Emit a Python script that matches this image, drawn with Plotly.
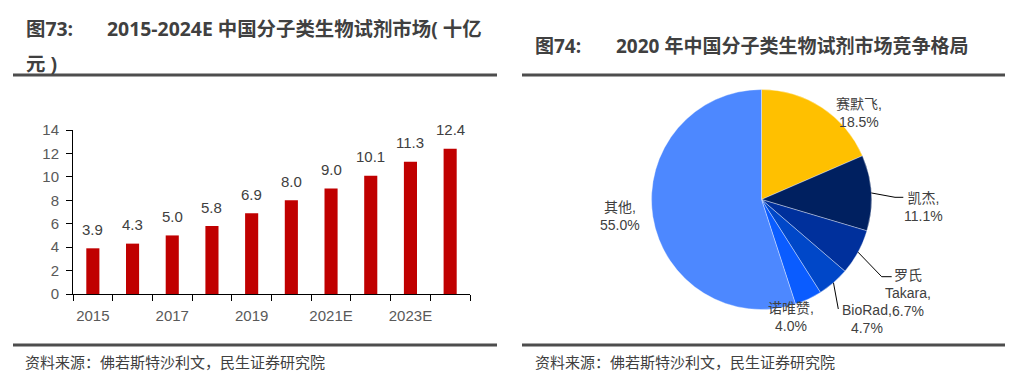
import math
import plotly.graph_objects as go

# ---------------- data ----------------
years = ["2015", "2016", "2017", "2018", "2019", "2020", "2021E", "2022E", "2023E", "2024E"]
market = [3.9, 4.3, 5.0, 5.8, 6.9, 8.0, 9.0, 10.1, 11.3, 12.4]
year_ticktext = [y if i % 2 == 0 else "" for i, y in enumerate(years)]
y_ticks = [0, 2, 4, 6, 8, 10, 12, 14]

companies = ["赛默飞", "凯杰", "罗氏Takara", "BioRad", "诺唯赞", "其他"]
company_label = ["赛默飞,", "凯杰,", "罗氏<br>Takara,", "BioRad,", "诺唯赞,", "其他,"]
shares = [18.5, 11.1, 6.7, 4.7, 4.0, 55.0]
pie_colors = ["#FFC000", "#002060", "#00309C", "#0047C8", "#0A5CFF", "#4D88FF"]

title_left_1a = "图73:"
title_left_1b = "2015-2024E 中国分子类生物试剂市场( 十亿"
title_left_2 = "元 )"
title_right_a = "图74:"
title_right_b = "2020 年中国分子类生物试剂市场竞争格局"
source_text = "资料来源：佛若斯特沙利文，民生证券研究院"

W, H = 1024, 376
OFF = 8  # page body margin offset compensation


def px(x):
    return (x - OFF) / W


def py(y):
    return 1 - (y - OFF) / H


CJK = "Liberation Sans, Noto Sans CJK SC"
TXT = "#404040"

fig = go.Figure()

# ---------------- bar chart ----------------
fig.add_trace(go.Bar(
    x=years, y=market, marker=dict(color="#C00000", line=dict(width=0)),
    width=0.33, xaxis="x", yaxis="y", hoverinfo="x+y",
))

# ---------------- pie ----------------
cx, cy, r = 761.5, 199.5, 110
fig.add_trace(go.Pie(
    labels=companies, values=shares, sort=False, direction="clockwise", rotation=0,
    marker=dict(colors=pie_colors, line=dict(color="rgba(255,255,255,0.6)", width=0.6)),
    textinfo="none", showlegend=False, hole=0, automargin=False,
    domain=dict(x=[px(cx - r), px(cx + r)], y=[py(cy + r), py(cy - r)]),
))

annotations = []
# bar value labels (x given as category index)
for i, v in enumerate(market):
    annotations.append(dict(
        x=i, y=v, xref="x", yref="y", text=f"{v:.1f}", showarrow=False,
        yshift=19, font=dict(family="Liberation Sans", size=15, color=TXT),
    ))

# pie labels (positions of text blocks)
label_pos = [(859, 113), (923, 207), (908, 293), (867, 319), (791, 317), (620, 216)]
for name, v, (lx, ly) in zip(company_label, shares, label_pos):
    annotations.append(dict(
        x=px(lx), y=py(ly), xref="paper", yref="paper", text=f"{name}<br>{v:.1f}%",
        showarrow=False, xanchor="center", yanchor="middle", align="center",
        font=dict(family=CJK, size=14, color=TXT),
    ))

# titles
titles = [
    (24, 28, title_left_1a, 19.4), (105, 28, title_left_1b, 19.4), (24, 63, title_left_2, 19.4),
    (533, 46, title_right_a, 19), (614, 46, title_right_b, 19),
]
for tx, ty, t, fs in titles:
    annotations.append(dict(
        x=px(tx), y=py(ty), xref="paper", yref="paper", showarrow=False,
        xanchor="left", yanchor="middle",
        font=dict(family="Open Sans, Noto Sans CJK SC", size=fs, color="#404040"),
        text="<b>" + t + "</b>",
    ))

# sources
for sx in (23, 533):
    annotations.append(dict(
        x=px(sx), y=py(361), xref="paper", yref="paper", text=source_text, showarrow=False,
        xanchor="left", yanchor="middle", font=dict(family="Noto Sans CJK SC", size=15, color=TXT),
    ))

shapes = []
for x0, x1 in ((13, 497), (522, 1005)):
    for yy in (75, 345):
        shapes.append(dict(type="line", xref="paper", yref="paper",
                           x0=px(x0), x1=px(x1), y0=py(yy), y1=py(yy),
                           line=dict(color="#4D4D4D", width=3)))


# leader lines derived from slice mid-angles
def edge_point(idx):
    start = sum(shares[:idx])
    mid = (start + shares[idx] / 2) / sum(shares) * 2 * math.pi
    return cx + r * math.sin(mid), cy - r * math.cos(mid)


leaders = {1: [(895, 197.3), (903.3, 197.3)], 2: [(881.7, 276.7), (891.7, 276.7)], 3: [(838.3, 309)]}
for idx, pts in leaders.items():
    path_pts = [edge_point(idx)] + pts
    for (x0, y0), (x1, y1) in zip(path_pts[:-1], path_pts[1:]):
        shapes.append(dict(type="line", xref="paper", yref="paper",
                           x0=px(x0), x1=px(x1), y0=py(y0), y1=py(y1),
                           line=dict(color="#000000", width=1)))

fig.update_layout(
    width=W, height=H, margin=dict(l=0, r=0, t=0, b=0, autoexpand=False),
    paper_bgcolor="white", plot_bgcolor="white", showlegend=False,
    annotations=annotations, shapes=shapes,
    xaxis=dict(
        domain=[px(73), px(470)], type="category", range=[-0.5, len(years) - 0.5],
        tickvals=years, ticktext=year_ticktext, automargin=False,
        tickson="boundaries", ticks="outside", ticklen=6, tickcolor="#000000",
        showline=True, linecolor="#000000", linewidth=1, showgrid=False,
        tickfont=dict(family="Liberation Sans", size=15, color="#595959"),
        ticklabelstandoff=8, fixedrange=True, tickangle=0,
    ),
    yaxis=dict(
        domain=[py(294), py(130)], range=[0, 14], tickvals=y_ticks, automargin=False,
        ticks="outside", ticklen=6, tickcolor="#000000",
        showline=True, linecolor="#000000", linewidth=1, showgrid=False, zeroline=False,
        tickfont=dict(family="Liberation Sans", size=15, color="#595959"),
        ticklabelstandoff=4, fixedrange=True,
    ),
)

fig.write_html("out.html")
